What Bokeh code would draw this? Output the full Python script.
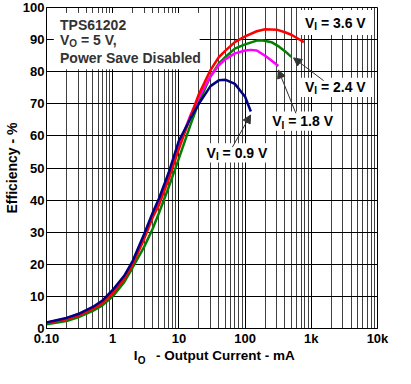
from bokeh.plotting import figure
from bokeh.models import Range1d, FixedTicker, Label, BoxAnnotation, Arrow, NormalHead, LogAxis
from bokeh.embed import file_html
from bokeh.resources import INLINE

# ---- data ----
i_09 = [0.1, 0.2, 0.3, 0.5, 0.7, 1, 1.5, 2, 3, 4, 5, 7, 10, 15, 20, 30, 40, 50, 70, 100, 122]
eff_09 = [1.9, 3.3, 4.5, 6.7, 8.7, 12, 16.5, 21, 29.5, 36, 40.5, 48.5, 58.5, 65.5, 70, 75.5, 77.3, 77.5, 76.2, 72.2, 67.6]

i_18 = [0.1, 0.2, 0.3, 0.5, 0.7, 1, 1.5, 2, 3, 4, 5, 7, 10, 15, 20, 30, 40, 50, 70, 100, 122, 150, 206, 250, 318]
eff_18 = [1.8, 3.1, 4.2, 6.4, 8.3, 11.4, 16, 20.5, 28.7, 35.2, 39.3, 47.3, 57, 66.5, 72, 78.5, 82, 83.8, 85.7, 86.6, 86.8, 86.6, 84.8, 83.5, 81.8]

i_24 = [0.1, 0.2, 0.3, 0.5, 0.7, 1, 1.5, 2, 3, 4, 5, 7, 10, 15, 20, 30, 40, 50, 70, 100, 150, 180, 250, 326, 400, 500]
eff_24 = [1.3, 2.3, 3.5, 5.5, 7.2, 10, 14.5, 19, 25.5, 31, 36, 44, 53, 63.5, 70.5, 78.5, 82.5, 84.5, 87.2, 88.5, 89.7, 89.8, 89.2, 87.8, 86.4, 84.6]

i_36 = [0.1, 0.2, 0.3, 0.5, 0.7, 1, 1.5, 2, 3, 4, 5, 7, 10, 15, 20, 30, 40, 50, 70, 100, 150, 200, 300, 400, 500, 773]
eff_36 = [1.7, 2.9, 4.0, 6.1, 8.0, 11, 15.5, 20, 28, 34.5, 38.5, 46.5, 56, 66, 73, 80.5, 84.5, 86.5, 89.2, 91, 92.6, 93.2, 93.1, 92.3, 91.5, 89.2]

x_ticks = [0.1, 1, 10, 100, 1000, 10000]
x_tick_labels = ["0.10", "1", "10", "100", "1k", "10k"]
y_ticks = [0, 10, 20, 30, 40, 50, 60, 70, 80, 90, 100]

FONT = "Liberation Sans"

p = figure(width=394, height=368, x_axis_type="log",
           x_range=Range1d(0.1, 10000), y_range=Range1d(0, 100),
           output_backend="svg", toolbar_location=None,
           min_border_left=38, min_border_right=17, min_border_top=7, min_border_bottom=0)
p.background_fill_color = "white"
p.border_fill_color = "white"
p.outline_line_color = "black"
p.outline_line_width = 1

minor = [m * d for d in [0.1, 1, 10, 100, 1000] for m in range(2, 10)]
xt = FixedTicker(ticks=x_ticks, minor_ticks=minor)
p.xaxis.ticker = xt
p.xgrid.ticker = xt
p.xaxis.major_label_overrides = {t: s for t, s in zip(x_ticks, x_tick_labels)}
yt = FixedTicker(ticks=y_ticks)
p.yaxis.ticker = yt
p.ygrid.ticker = yt

for ax in (p.xaxis, p.yaxis):
    ax.major_tick_in = 0
    ax.major_tick_out = 0
    ax.minor_tick_in = 0
    ax.minor_tick_out = 0
    ax.axis_line_color = "black"
    ax.major_label_text_font = FONT
    ax.major_label_text_font_style = "bold"
    ax.major_label_text_font_size = "13px"
    ax.major_label_text_color = "black"
p.xaxis.major_label_standoff = 2
p.yaxis.major_label_standoff = 2

p.yaxis.axis_label = "Efficiency - %"
p.yaxis.axis_label_text_font = FONT
p.yaxis.axis_label_text_font_style = "bold"
p.yaxis.axis_label_text_font_size = "14px"
p.yaxis.axis_label_text_color = "black"
p.yaxis.axis_label_standoff = 0

# x-axis title "I_O - Output Current - mA" as two extra label-only axes
xsub_pos = [2.73]
xsub_txt = ["O"]
xlab_pos = [2.22, 50.2]
xlab_txt = ["I", "- Output Current - mA"]

def label_axis(pos, txt, size, standoff):
    a = LogAxis(ticker=FixedTicker(ticks=pos),
                major_label_overrides={t: s for t, s in zip(pos, txt)})
    a.axis_line_color = None
    a.major_tick_in = 0
    a.major_tick_out = 0
    a.minor_tick_in = 0
    a.minor_tick_out = 0
    a.major_label_text_font = FONT
    a.major_label_text_font_style = "bold"
    a.major_label_text_font_size = size
    a.major_label_text_color = "black"
    a.major_label_standoff = standoff
    p.add_layout(a, "below")

label_axis(xsub_pos, xsub_txt, "10px", 6)
label_axis(xlab_pos, xlab_txt, "13.5px", -21)

p.xgrid.grid_line_color = "black"
p.xgrid.grid_line_width = 1
p.xgrid.minor_grid_line_color = "black"
p.xgrid.minor_grid_line_alpha = 0.75
p.xgrid.minor_grid_line_width = 1
p.ygrid.grid_line_color = "black"
p.ygrid.grid_line_width = 1

# white boxes behind texts
def wbox(l, r, b, t):
    p.add_layout(BoxAnnotation(left=l, right=r, bottom=b, top=t, fill_color="white",
                               fill_alpha=1, line_color=None, level="underlay"))

wbox(0.129, 20.6, 80.8, 98.3)
wbox(697, 8650, 91.4, 99.2)
wbox(697, 8650, 72.1, 78.1)
wbox(233, 2585, 61.6, 67.6)
wbox(22.8, 247, 51.7, 57.7)

# curves
p.line(i_24, eff_24, line_color="#008000", line_width=2.5)
p.line(i_18, eff_18, line_color="#ff00ff", line_width=2.5)
p.line(i_36, eff_36, line_color="#ff0000", line_width=2.5)
p.line(i_09, eff_09, line_color="#000080", line_width=2.5)

W = {"V": 0.667, "I": 0.278, "O": 0.778}

def lab(x, y, text, size=14, color="black", xo=0, yo=0, align="left", angle=0):
    p.add_layout(Label(x=x, y=y, text=text, x_offset=xo, y_offset=yo,
                       text_font=FONT, text_font_style="bold",
                       text_font_size=f"{size}px", text_color=color,
                       text_align=align, text_baseline="middle", angle=angle))

def sublab(x, y, main, sub, rest, size=14, subsize=10, color="black"):
    lab(x, y, main, size, color)
    w1 = W[main] * size
    lab(x, y, sub, subsize, color, xo=w1, yo=-4)
    w2 = w1 + W[sub] * subsize + 0.278 * size
    lab(x, y, rest, size, color, xo=w2)

# title
TC = "#333333"
lab(0.16, 94.7, "TPS61202", color=TC)
sublab(0.16, 89.9, "V", "O", "= 5 V,", color=TC)
lab(0.16, 84.2, "Power Save Disabled", color=TC)

# series labels
sublab(800, 95.2, "V", "I", "= 3.6 V")
sublab(800, 75.3, "V", "I", "= 2.4 V")
sublab(257, 64.6, "V", "I", "= 1.8 V")
sublab(26.2, 54.7, "V", "I", "= 0.9 V")

# arrows
def arr(x0, y0, x1, y1):
    p.add_layout(Arrow(end=NormalHead(size=8, fill_color="#333333", line_color="#333333"),
                       x_start=x0, y_start=y0, x_end=x1, y_end=y1,
                       line_color="#333333", line_width=1))

arr(64.3, 56.5, 121, 66.5)
arr(586, 67.0, 318, 80.5)
arr(1538, 77.2, 540, 84.3)

open("out.html", "w").write(file_html(p, INLINE))
